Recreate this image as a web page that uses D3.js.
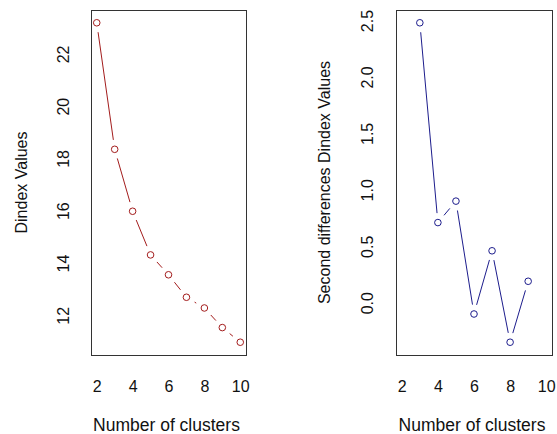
<!DOCTYPE html>
<html>
<head>
<meta charset="utf-8">
<script src="https://cdn.jsdelivr.net/npm/d3@7"></script>
<style>
  body { margin: 0; background: #fff; }
  svg text { font-family: "Liberation Sans", Arial, sans-serif; font-size: 16px; fill: #111; }
</style>
</head>
<body>
<div id="chart"></div>
<script>
// values
const clusters = [2, 3, 4, 5, 6, 7, 8, 9, 10];
const dindex = [23.19, 18.35, 15.98, 14.31, 13.55, 12.69, 12.28, 11.53, 10.97];
const diffClusters = [3, 4, 5, 6, 7, 8, 9];
const secondDiff = [2.48, 0.71, 0.90, -0.10, 0.46, -0.35, 0.19];
const xTicks = [2, 4, 6, 8, 10];
const leftTicks = [12, 14, 16, 18, 20, 22];
const rightTicks = [0, 0.5, 1, 1.5, 2, 2.5];

const width = 557, height = 434;
const svg = d3.select('#chart').append('svg')
  .attr('width', width)
  .attr('height', height);

// R-style 4% padding on each side of the data range
function pad(ext) {
  const d = (ext[1] - ext[0]) * 0.04;
  return [ext[0] - d, ext[1] + d];
}

function panel(opts) {
  const box = opts.box;
  const x = d3.scaleLinear().domain(pad([2, 10])).range([box.left, box.right]);
  const y = d3.scaleLinear().domain(pad(d3.extent(opts.values))).range([box.bottom, box.top]);

  const g = svg.append('g');

  g.append('rect')
    .attr('x', box.left + 0.5)
    .attr('y', box.top + 0.5)
    .attr('width', box.right - box.left)
    .attr('height', box.bottom - box.top)
    .attr('fill', 'none')
    .attr('stroke', '#333')
    .attr('stroke-width', 1);

  // x axis, no tick marks (tck = 0)
  const xAxis = g.append('g')
    .attr('transform', `translate(0,${box.bottom})`)
    .call(d3.axisBottom(x).tickValues(xTicks).tickSize(0).tickPadding(0).tickFormat(d3.format('d')));
  xAxis.select('.domain').remove();
  xAxis.selectAll('text')
    .attr('y', 37)
    .attr('dy', null)
    .style('font-size', '16px')
    .style('font-family', '"Liberation Sans", Arial, sans-serif')
    .attr('fill', '#111');

  // y axis, labels parallel to the axis
  const yAxis = g.append('g')
    .attr('transform', `translate(${box.left},0)`)
    .call(d3.axisLeft(y).tickValues(opts.ticks).tickSize(0).tickFormat(opts.fmt));
  yAxis.select('.domain').remove();
  yAxis.selectAll('.tick text')
    .attr('x', null)
    .attr('dy', null)
    .attr('transform', `translate(${-opts.tickOffset},0) rotate(-90)`)
    .attr('text-anchor', 'middle')
    .style('font-size', '16px')
    .style('font-family', '"Liberation Sans", Arial, sans-serif')
    .attr('fill', '#111');

  const cx = (box.left + box.right) / 2;
  const cy = (box.top + box.bottom) / 2;

  g.append('text')
    .attr('x', cx - 2)
    .attr('y', 431)
    .attr('text-anchor', 'middle')
    .style('font-size', '17.5px')
    .text('Number of clusters');

  g.append('text')
    .attr('transform', `translate(${opts.titleX},${cy}) rotate(-90)`)
    .attr('text-anchor', 'middle')
    .text(opts.title);

  // type = "b": segments with a gap around each point
  const pts = opts.xs.map((d, i) => [x(d), y(opts.values[i])]);
  const gap = 9.5;
  const segs = [];
  for (let i = 0; i < pts.length - 1; i++) {
    const [x0, y0] = pts[i], [x1, y1] = pts[i + 1];
    const len = Math.hypot(x1 - x0, y1 - y0);
    if (len <= 2 * gap) continue;
    const ux = (x1 - x0) / len, uy = (y1 - y0) / len;
    segs.push([x0 + ux * gap, y0 + uy * gap, x1 - ux * gap, y1 - uy * gap]);
  }
  g.selectAll('line.seg')
    .data(segs)
    .enter().append('line')
    .attr('class', 'seg')
    .attr('x1', d => d[0]).attr('y1', d => d[1])
    .attr('x2', d => d[2]).attr('y2', d => d[3])
    .attr('stroke', opts.color)
    .attr('stroke-width', 1);

  g.selectAll('circle.pt')
    .data(pts)
    .enter().append('circle')
    .attr('class', 'pt')
    .attr('cx', d => d[0])
    .attr('cy', d => d[1])
    .attr('r', 3.3)
    .attr('fill', 'none')
    .attr('stroke', opts.color)
    .attr('stroke-width', 1);
}

panel({
  box: {left: 91, right: 246, top: 10, bottom: 355},
  xs: clusters,
  values: dindex,
  ticks: leftTicks,
  fmt: d3.format('d'),
  tickOffset: 22,
  title: 'Dindex Values',
  titleX: 27,
  color: '#a31c1c'
});

panel({
  box: {left: 396, right: 552, top: 10, bottom: 355},
  xs: diffClusters,
  values: secondDiff,
  ticks: rightTicks,
  fmt: d3.format('.1f'),
  tickOffset: 23,
  title: 'Second differences Dindex Values',
  titleX: 330,
  color: '#1c1c8c'
});
</script>
</body>
</html>
